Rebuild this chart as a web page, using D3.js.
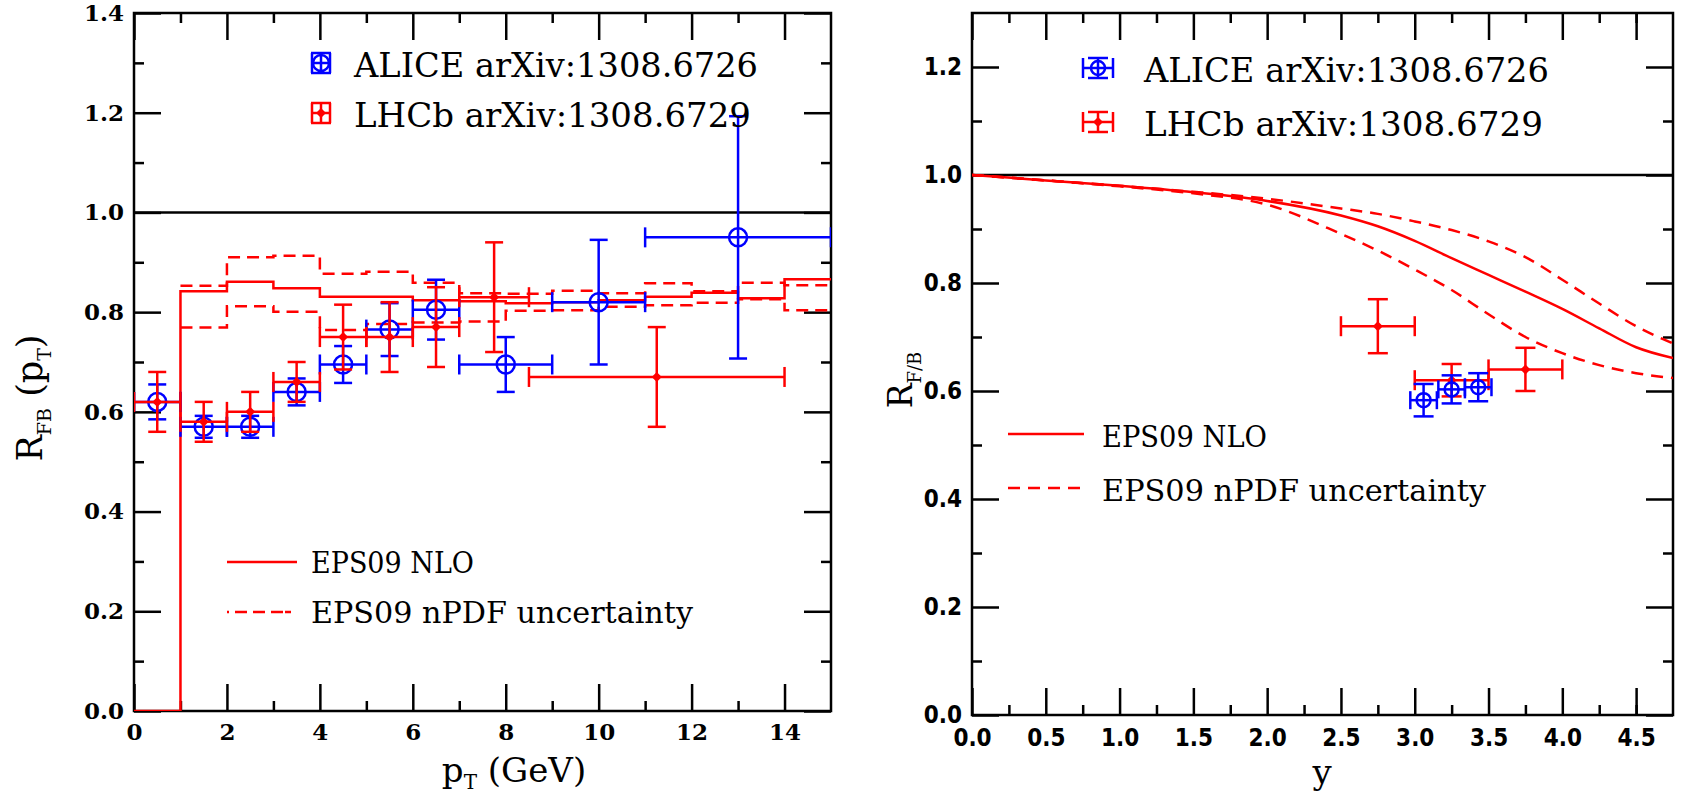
<!DOCTYPE html>
<html>
<head>
<meta charset="utf-8">
<script src="https://cdn.jsdelivr.net/npm/d3@7"></script>
<style>
  body { margin: 0; background: #fff; }
  svg { display: block; }
  .tickL text { font-family: "DejaVu Serif", serif; font-weight: bold; font-size: 23px; fill: #000; }
  .tickR text { font-family: "Liberation Sans Narrow", "DejaVu Sans Condensed", sans-serif; font-weight: bold; font-size: 24px; fill: #000; }
  .tick line { stroke: #000; stroke-width: 2.5; }
  .serif { font-family: "DejaVu Serif", serif; fill: #000; }
</style>
</head>
<body>
<script>

// ---- left panel data: R_FB vs pT ----
var ptEdges = [1, 2, 3, 4, 5, 6, 7, 8, 9, 10, 11, 12, 13, 14, 15];
var eps09Central = [0.842, 0.861, 0.848, 0.831, 0.831, 0.824, 0.822, 0.818, 0.820, 0.824, 0.831, 0.839, 0.828, 0.866];
var eps09Upper   = [0.853, 0.910, 0.913, 0.877, 0.881, 0.859, 0.838, 0.837, 0.843, 0.838, 0.858, 0.842, 0.859, 0.854];
var eps09Lower   = [0.769, 0.812, 0.801, 0.764, 0.776, 0.779, 0.781, 0.803, 0.804, 0.811, 0.814, 0.819, 0.826, 0.804];

var alicePt     = [0.5, 1.5, 2.5, 3.5, 4.5, 5.5, 6.5, 8, 10, 13];
var alicePtErr  = [0.5, 0.5, 0.5, 0.5, 0.5, 0.5, 0.5, 1, 1, 2];
var aliceRpt    = [0.62, 0.57, 0.57, 0.64, 0.695, 0.765, 0.805, 0.695, 0.82, 0.95];
var aliceRptErr = [0.035, 0.022, 0.022, 0.027, 0.037, 0.053, 0.06, 0.055, 0.125, 0.243];

var lhcbPt     = [0.5, 1.5, 2.5, 3.5, 4.5, 5.5, 6.5, 7.75, 11.25];
var lhcbPtErr  = [0.5, 0.5, 0.5, 0.5, 0.5, 0.5, 0.5, 0.75, 2.75];
var lhcbRpt    = [0.62, 0.58, 0.60, 0.66, 0.75, 0.75, 0.77, 0.83, 0.67];
var lhcbRptErr = [0.06, 0.04, 0.04, 0.04, 0.065, 0.07, 0.08, 0.11, 0.10];

// ---- right panel data: R_F/B vs y ----
var yGrid       = [0, 0.5, 1.0, 1.5, 2.0, 2.5, 2.75, 3.0, 3.25, 3.5, 3.75, 4.0, 4.25, 4.5, 4.75];
var rapCentral  = [1.0, 0.990, 0.980, 0.968, 0.952, 0.925, 0.905, 0.878, 0.846, 0.815, 0.784, 0.752, 0.716, 0.681, 0.661];
var rapUpper    = [1.0, 0.990, 0.980, 0.969, 0.956, 0.938, 0.928, 0.914, 0.898, 0.877, 0.848, 0.806, 0.762, 0.720, 0.688];
var rapLower    = [1.0, 0.990, 0.979, 0.966, 0.945, 0.891, 0.860, 0.825, 0.787, 0.742, 0.700, 0.670, 0.648, 0.633, 0.624];

var aliceY     = [3.06, 3.25, 3.43];
var aliceYErr  = [0.09, 0.09, 0.09];
var aliceRy    = [0.583, 0.603, 0.607];
var aliceRyErr = [0.03, 0.026, 0.026];

var lhcbY     = [2.75, 3.25, 3.75];
var lhcbYErr  = [0.25, 0.25, 0.25];
var lhcbRy    = [0.72, 0.62, 0.64];
var lhcbRyErr = [0.05, 0.03, 0.04];

// tick values
var ptMajor = [0, 2, 4, 6, 8, 10, 12, 14];
var ptMinor = [1, 3, 5, 7, 9, 11, 13];
var rLeftMajor = [0, 0.2, 0.4, 0.6, 0.8, 1.0, 1.2, 1.4];
var rLeftMinor = [0.1, 0.3, 0.5, 0.7, 0.9, 1.1, 1.3];
var yMajor = [0, 0.5, 1.0, 1.5, 2.0, 2.5, 3.0, 3.5, 4.0, 4.5];
var yMinor = [0.25, 0.75, 1.25, 1.75, 2.25, 2.75, 3.25, 3.75, 4.25, 4.5];
var rRightMajor = [0, 0.2, 0.4, 0.6, 0.8, 1.0, 1.2];
var rRightMinor = [0.1, 0.3, 0.5, 0.7, 0.9, 1.1];

var RED = "#ff0000", BLUE = "#0000ff";

var svg = d3.select("body").append("svg")
    .attr("width", 1681)
    .attr("height", 800);

// builds frame, scales and inward ticks on all four sides
function makePanel(p) {
    var x = d3.scaleLinear().domain(p.xDomain).range([p.left, p.right]);
    var y = d3.scaleLinear().domain(p.yDomain).range([p.bottom, p.top]);
    var g = svg.append("g");

    var sides = [
        [d3.axisBottom(x), "translate(0," + p.bottom + ")", p.xMajor, p.xMinor, p.xFmt, p.xPad],
        [d3.axisTop(x), "translate(0," + p.top + ")", p.xMajor, p.xMinor, null, 0],
        [d3.axisLeft(y), "translate(" + p.left + ",0)", p.yMajor, p.yMinor, p.yFmt, p.yPad],
        [d3.axisRight(y), "translate(" + p.right + ",0)", p.yMajor, p.yMinor, null, 0]
    ];
    sides.forEach(function(s) {
        var major = s[0].tickValues(s[2]).tickSize(-27).tickPadding(s[5])
            .tickFormat(s[4] ? s[4] : "");
        g.append("g").attr("class", p.tickClass).attr("transform", s[1]).call(major);
        var minorAxis = s[0].tickValues(s[3]).tickSize(-10).tickFormat("");
        g.append("g").attr("class", p.tickClass).attr("transform", s[1]).call(minorAxis);
    });
    g.selectAll(".domain").remove();

    g.append("rect")
        .attr("x", p.left).attr("y", p.top)
        .attr("width", p.right - p.left).attr("height", p.bottom - p.top)
        .attr("fill", "none").attr("stroke", "#000").attr("stroke-width", 2.5);

    var clipId = "clip" + p.left;
    svg.append("clipPath").attr("id", clipId).append("rect")
        .attr("x", p.left).attr("y", p.top)
        .attr("width", p.right - p.left).attr("height", p.bottom - p.top);
    var plot = svg.append("g").attr("clip-path", "url(#" + clipId + ")");

    // reference line at 1
    plot.append("line")
        .attr("x1", x(p.xDomain[0])).attr("x2", x(p.xDomain[1]))
        .attr("y1", y(1)).attr("y2", y(1))
        .attr("stroke", "#000").attr("stroke-width", 2.5);

    return {x: x, y: y, g: g, plot: plot};
}

function errorBars(layer, x, y, xs, xe, ys, ye, color, capW, capH, marker, r) {
    var pts = xs.map(function(v, i) { return {x: v, xe: xe[i], y: ys[i], ye: ye[i]}; });
    var e = layer.append("g").attr("stroke", color).attr("stroke-width", 2.5).attr("fill", "none");
    pts.forEach(function(d) {
        var cx = x(d.x), cy = y(d.y);
        var x0 = x(d.x - d.xe), x1 = x(d.x + d.xe);
        var y0 = y(d.y - d.ye), y1 = y(d.y + d.ye);
        e.append("line").attr("x1", x0).attr("x2", x1).attr("y1", cy).attr("y2", cy);
        e.append("line").attr("x1", cx).attr("x2", cx).attr("y1", y0).attr("y2", y1);
        e.append("line").attr("x1", x0).attr("x2", x0).attr("y1", cy - capH).attr("y2", cy + capH);
        e.append("line").attr("x1", x1).attr("x2", x1).attr("y1", cy - capH).attr("y2", cy + capH);
        e.append("line").attr("x1", cx - capW).attr("x2", cx + capW).attr("y1", y0).attr("y2", y0);
        e.append("line").attr("x1", cx - capW).attr("x2", cx + capW).attr("y1", y1).attr("y2", y1);
        drawMarker(e, cx, cy, marker, color, r);
    });
}

function drawMarker(layer, cx, cy, marker, color, r) {
    if (marker == "circle") {
        layer.append("circle").attr("cx", cx).attr("cy", cy).attr("r", r)
            .attr("fill", "none").attr("stroke", color).attr("stroke-width", 2.5);
    } else {
        layer.append("path")
            .attr("d", "M" + cx + "," + (cy - r) + "L" + (cx + r) + "," + cy
                     + "L" + cx + "," + (cy + r) + "L" + (cx - r) + "," + cy + "Z")
            .attr("fill", color).attr("stroke", "none");
    }
}

// legend marker: small cross of error bars with caps
function legendMarker(cx, cy, color, marker, hw, hh, r) {
    var m = svg.append("g").attr("stroke", color).attr("stroke-width", 2.5).attr("fill", "none");
    m.append("line").attr("x1", cx - hw).attr("x2", cx + hw).attr("y1", cy).attr("y2", cy);
    m.append("line").attr("x1", cx).attr("x2", cx).attr("y1", cy - hh).attr("y2", cy + hh);
    m.append("line").attr("x1", cx - hw).attr("x2", cx - hw).attr("y1", cy - 10).attr("y2", cy + 10);
    m.append("line").attr("x1", cx + hw).attr("x2", cx + hw).attr("y1", cy - 10).attr("y2", cy + 10);
    m.append("line").attr("x1", cx - 10).attr("x2", cx + 10).attr("y1", cy - hh).attr("y2", cy - hh);
    m.append("line").attr("x1", cx - 10).attr("x2", cx + 10).attr("y1", cy + hh).attr("y2", cy + hh);
    drawMarker(m, cx, cy, marker, color, r);
}

function legendText(x0, y0, str, size, len) {
    svg.append("text").attr("class", "serif")
        .attr("x", x0).attr("y", y0)
        .attr("font-size", size)
        .attr("textLength", len).attr("lengthAdjust", "spacingAndGlyphs")
        .text(str);
}

// =================== LEFT PANEL ===================
var L = makePanel({
    left: 134, right: 831, top: 13, bottom: 711,
    xDomain: [0, 15], yDomain: [0, 1.4],
    xMajor: ptMajor, xMinor: ptMinor, yMajor: rLeftMajor, yMinor: rLeftMinor,
    xFmt: d3.format("d"), yFmt: d3.format(".1f"), xPad: 13, yPad: 10,
    tickClass: "tickL"
});

var stepLine = d3.line().x(d => L.x(d[0])).y(d => L.y(d[1])).curve(d3.curveStepAfter);

function stepPoints(vals, lead) {
    var pts = lead ? lead.slice() : [];
    vals.forEach(function(v, i) { pts.push([ptEdges[i], v]); });
    pts.push([ptEdges[ptEdges.length - 1], vals[vals.length - 1]]);
    return pts;
}

L.plot.append("path").datum(stepPoints(eps09Upper))
    .attr("d", stepLine).attr("fill", "none").attr("stroke", RED)
    .attr("stroke-width", 2.5).attr("stroke-dasharray", "12,7");
L.plot.append("path").datum(stepPoints(eps09Lower))
    .attr("d", stepLine).attr("fill", "none").attr("stroke", RED)
    .attr("stroke-width", 2.5).attr("stroke-dasharray", "12,7");
L.plot.append("path").datum(stepPoints(eps09Central, [[0, 0]]))
    .attr("d", stepLine).attr("fill", "none").attr("stroke", RED)
    .attr("stroke-width", 2.5);

errorBars(L.plot, L.x, L.y, alicePt, alicePtErr, aliceRpt, aliceRptErr, BLUE, 9, 10, "circle", 9);
errorBars(L.plot, L.x, L.y, lhcbPt, lhcbPtErr, lhcbRpt, lhcbRptErr, RED, 9, 10, "diamond", 5);

// legends
legendMarker(321, 63, BLUE, "circle", 9, 10, 8);
legendText(354, 77, "ALICE arXiv:1308.6726", 33, 404);
legendMarker(321, 113, RED, "diamond", 9, 10, 5);
legendText(354, 127, "LHCb arXiv:1308.6729", 33, 397);

svg.append("line").attr("x1", 227).attr("x2", 297).attr("y1", 562).attr("y2", 562)
    .attr("stroke", RED).attr("stroke-width", 2.5);
legendText(311, 573, "EPS09 NLO", 29, 163);
svg.append("line").attr("x1", 227).attr("x2", 297).attr("y1", 612).attr("y2", 612)
    .attr("stroke", RED).attr("stroke-width", 2.5).attr("stroke-dasharray", "2,6,12,6,12,6,12");
legendText(311, 623, "EPS09 nPDF uncertainty", 29, 382);

// axis titles
var xt = svg.append("text").attr("class", "serif").attr("font-size", 34)
    .attr("x", 514).attr("y", 782).attr("text-anchor", "middle");
xt.append("tspan").text("p");
xt.append("tspan").attr("font-size", 20).attr("dy", 7).text("T");
xt.append("tspan").attr("dy", -7).text(" (GeV)");

var yt = svg.append("text").attr("class", "serif").attr("font-size", 35)
    .attr("text-anchor", "middle")
    .attr("transform", "translate(42,398) rotate(-90)");
yt.append("tspan").text("R");
yt.append("tspan").attr("font-size", 19).attr("dy", 9).text("FB");
yt.append("tspan").attr("dy", -9).text(" (p");
yt.append("tspan").attr("font-size", 19).attr("dy", 9).text("T");
yt.append("tspan").attr("dy", -9).text(")");

// =================== RIGHT PANEL ===================
var R = makePanel({
    left: 972, right: 1673, top: 13, bottom: 715,
    xDomain: [0, 4.75], yDomain: [0, 1.3],
    xMajor: yMajor, xMinor: yMinor, yMajor: rRightMajor, yMinor: rRightMinor,
    xFmt: d3.format(".1f"), yFmt: d3.format(".1f"), xPad: 14, yPad: 10,
    tickClass: "tickR"
});

var smooth = d3.line().x(d => R.x(d[0])).y(d => R.y(d[1])).curve(d3.curveMonotoneX);
function rapPoints(vals) { return yGrid.map(function(v, i) { return [v, vals[i]]; }); }

R.plot.append("path").datum(rapPoints(rapUpper))
    .attr("d", smooth).attr("fill", "none").attr("stroke", RED)
    .attr("stroke-width", 2.5).attr("stroke-dasharray", "12,8");
R.plot.append("path").datum(rapPoints(rapLower))
    .attr("d", smooth).attr("fill", "none").attr("stroke", RED)
    .attr("stroke-width", 2.5).attr("stroke-dasharray", "12,8");
R.plot.append("path").datum(rapPoints(rapCentral))
    .attr("d", smooth).attr("fill", "none").attr("stroke", RED)
    .attr("stroke-width", 2.5);

errorBars(R.plot, R.x, R.y, lhcbY, lhcbYErr, lhcbRy, lhcbRyErr, RED, 10, 10, "diamond", 5);
errorBars(R.plot, R.x, R.y, aliceY, aliceYErr, aliceRy, aliceRyErr, BLUE, 10, 9, "circle", 7);

legendMarker(1098, 68, BLUE, "circle", 15, 10, 7);
legendText(1144, 82, "ALICE arXiv:1308.6726", 33, 405);
legendMarker(1098, 122, RED, "diamond", 15, 10, 5);
legendText(1144, 136, "LHCb arXiv:1308.6729", 33, 399);

svg.append("line").attr("x1", 1008).attr("x2", 1084).attr("y1", 434).attr("y2", 434)
    .attr("stroke", RED).attr("stroke-width", 2.5);
legendText(1102, 447, "EPS09 NLO", 29, 165);
svg.append("line").attr("x1", 1008).attr("x2", 1084).attr("y1", 488).attr("y2", 488)
    .attr("stroke", RED).attr("stroke-width", 2.5).attr("stroke-dasharray", "12,8");
legendText(1102, 501, "EPS09 nPDF uncertainty", 29, 384);

svg.append("text").attr("class", "serif").attr("font-size", 34)
    .attr("x", 1322).attr("y", 784).attr("text-anchor", "middle").text("y");

var yt2 = svg.append("text").attr("class", "serif").attr("font-size", 33)
    .attr("text-anchor", "middle")
    .attr("transform", "translate(912,380) rotate(-90)");
yt2.append("tspan").text("R");
yt2.append("tspan").attr("font-size", 18).attr("dy", 9).text("F/B");

</script>
</body>
</html>
